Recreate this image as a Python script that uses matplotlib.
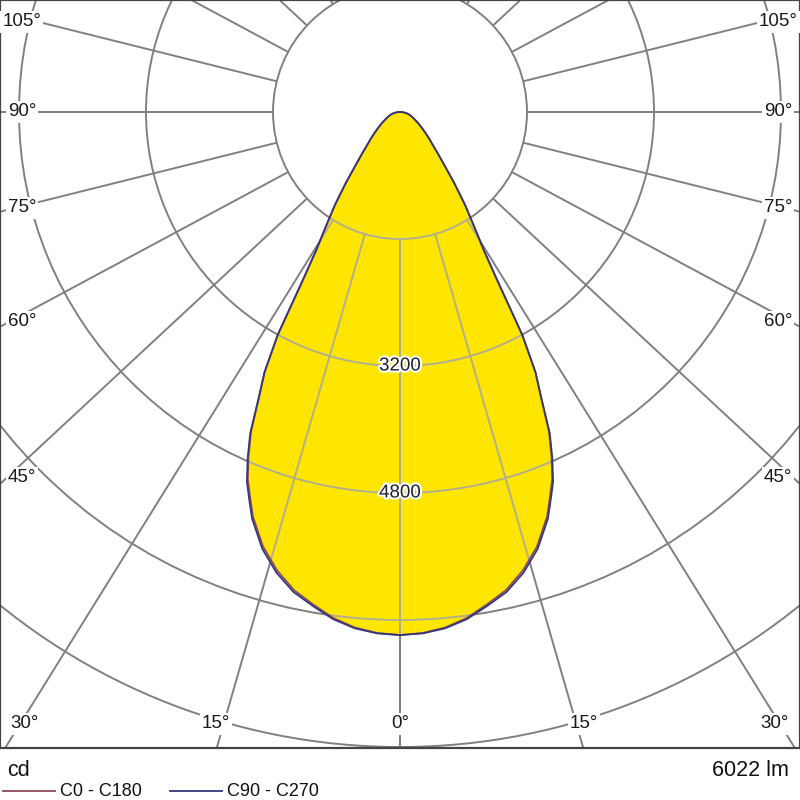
import matplotlib.pyplot as plt
import matplotlib.patheffects as pe
import numpy as np
from matplotlib.lines import Line2D
from matplotlib.patches import Circle, Polygon

plt.rcParams["font.family"] = ["Liberation Sans", "DejaVu Sans"]

# luminous intensity (cd) vs gamma angle (deg)
GAMMA = [0, 2.5, 5, 7.5, 10, 12.5, 15, 17.5, 20, 21.25, 22.5, 23.75, 25, 26.25,
         27.5, 28.75, 30, 31.25, 32.5, 35, 37.5, 40, 42.5, 45, 47.5, 50, 52.5,
         55, 57.5, 60, 65, 70, 75, 80, 85, 90]
I_C0_C180 = [6590, 6570, 6520, 6430, 6300, 6170, 5980, 5740, 5420, 5210, 5010,
             4740, 4440, 4020, 3690, 3200, 2460, 2030, 1790, 1430, 1110, 860,
             700, 580, 500, 430, 370, 320, 280, 245, 190, 150, 115, 80, 40, 0]
I_C90_C270 = [6590, 6575, 6530, 6445, 6320, 6195, 6010, 5770, 5450, 5240, 5040,
              4765, 4465, 4035, 3700, 3205, 2460, 2030, 1790, 1430, 1110, 860,
              700, 580, 500, 430, 370, 320, 280, 245, 190, 150, 115, 80, 40, 0]

RINGS = [1600, 3200, 4800, 6400, 8000, 9600, 11200]
RING_LABELS = [3200, 4800]
GRID_ANGLES = list(range(0, 181, 15))
ANGLE_LABELS = ["105°", "90°", "75°", "60°", "45°", "30°", "15°", "0°"]
UNIT = "cd"
FLUX = "6022 lm"
SERIES = ["C0 - C180", "C90 - C270"]

PX = 1600 / 127.0          # cd per pixel
CX, CY = 400, 112          # pole position in pixels
SQUASH = 0.93              # the radial grid lines are drawn slightly squashed


def px(x, y):
    return (x - CX) * PX, (CY - y) * PX


def full_curve(values):
    g = np.radians(np.r_[-np.array(GAMMA[::-1]), np.array(GAMMA[1:])])
    v = np.r_[np.array(values[::-1]), np.array(values[1:])]
    return v * np.sin(g), -v * np.cos(g)


def draw_grid(ax, color, lw, z, clip=None):
    arts = []
    for r in RINGS:
        c = Circle((0, 0), r, fill=False, ec=color, lw=lw, zorder=z)
        ax.add_patch(c)
        arts.append(c)
    for a in GRID_ANGLES:
        for sgn in (-1, 1):
            t = np.radians(a)
            ux, uy = sgn * np.sin(t), -np.cos(t) * SQUASH
            n = np.hypot(ux, uy)
            ux, uy = ux / n, uy / n
            ln, = ax.plot([RINGS[0] * ux, 20000 * ux], [RINGS[0] * uy, 20000 * uy],
                          color=color, lw=lw, zorder=z, solid_capstyle="butt")
            arts.append(ln)
    if clip is not None:
        for art in arts:
            art.set_clip_path(clip)


fig = plt.figure(figsize=(8, 8), dpi=100)
ax = fig.add_axes([0, 52 / 800, 1, 748 / 800])
x0, y1 = px(0, 0)
x1, y0 = px(800, 748)
ax.set_xlim(x0, x1)
ax.set_ylim(y0, y1)
ax.set_xticks([])
ax.set_yticks([])
for sp in ax.spines.values():
    sp.set_color("#444444")
    sp.set_linewidth(1.6)

draw_grid(ax, "#808080", 1.4, 1)

fx, fy = full_curve(I_C0_C180)
fill = Polygon(np.column_stack([fx, fy]), closed=True, fc="#FFE600", ec="none", zorder=2)
ax.add_patch(fill)
draw_grid(ax, "#b3ae8e", 1.4, 3, clip=fill)

ax.plot(fx, fy, color="#8B4B55", lw=1.3, zorder=5, solid_joinstyle="round")
bx, by = full_curve(I_C90_C270)
ax.plot(bx, by, color="#35387A", lw=1.3, zorder=6, solid_joinstyle="round")

for r in RING_LABELS:
    ax.text(0, -r, str(r), ha="center", va="center", fontsize=13.5, color="#1e1e2e", zorder=8,
            path_effects=[pe.withStroke(linewidth=3, foreground="white")])

# angle labels (pixel positions)
side_y = [22, 112, 208, 322, 478]
for lab, yy in zip(ANGLE_LABELS[:5], side_y):
    for xx in (22, 778):
        tx, ty = px(xx, yy)
        ax.text(tx, ty, lab, ha="center", va="center", fontsize=13.5, color="#1a1a1a", zorder=9,
                bbox=dict(fc="white", ec="none", pad=1.5))
for lab, xx in zip(ANGLE_LABELS[5:], [25, 216, 400]):
    for x_ in ({xx, 800 - xx}):
        tx, ty = px(x_, 724)
        ax.text(tx, ty, lab, ha="center", va="center", fontsize=13.5, color="#1a1a1a", zorder=9,
                bbox=dict(fc="white", ec="none", pad=1.5))

fig.text(7 / 800, 1 - 770 / 800, UNIT, ha="left", va="center", fontsize=15.5, color="#111111")
fig.text(789 / 800, 1 - 770 / 800, FLUX, ha="right", va="center", fontsize=15.5, color="#111111")

leg_y = 1 - 791 / 800
for (xa, xb, xt), lab, col in zip([(3, 55, 60), (170, 222, 227)], SERIES, ["#8B4B55", "#35387A"]):
    fig.add_artist(Line2D([xa / 800, xb / 800], [leg_y, leg_y], color=col, lw=1.3,
                          transform=fig.transFigure))
    fig.text(xt / 800, leg_y, lab, ha="left", va="center", fontsize=13, color="#111111")

fig.savefig("out.png", dpi=100)
